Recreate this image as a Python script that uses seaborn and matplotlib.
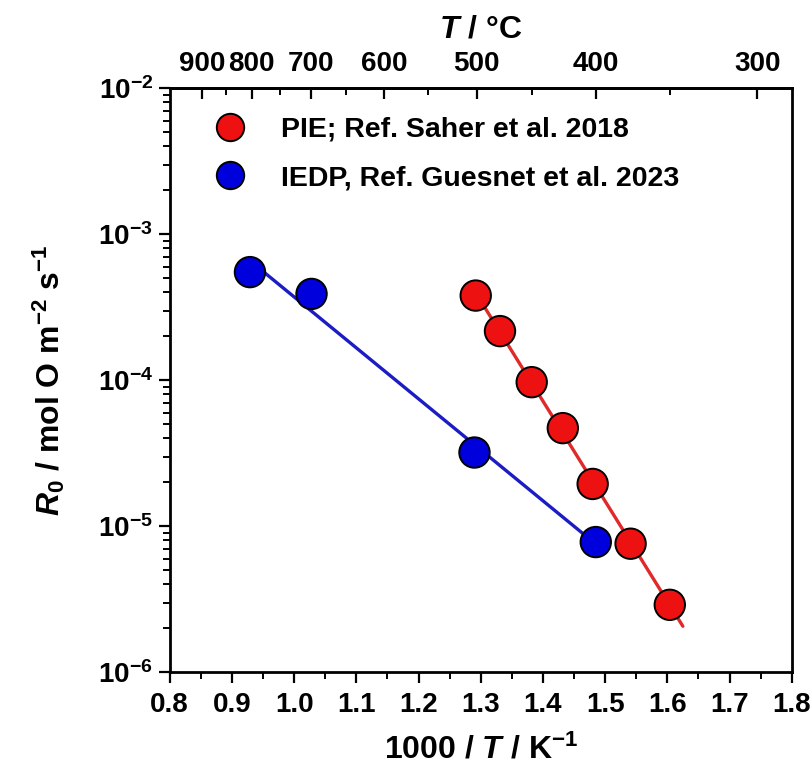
import numpy as np
import pandas as pd
import seaborn as sns
import matplotlib.pyplot as plt
from matplotlib.ticker import FixedLocator, LogLocator, NullFormatter, MultipleLocator

sns.set_style("ticks")
plt.rcParams['font.family'] = ['Liberation Sans', 'DejaVu Sans']
plt.rcParams['font.weight'] = 'bold'
plt.rcParams['text.color'] = 'black'
plt.rcParams['axes.labelcolor'] = 'black'
plt.rcParams['xtick.color'] = 'black'
plt.rcParams['ytick.color'] = 'black'
plt.rcParams['axes.edgecolor'] = 'black'
plt.rcParams['mathtext.fontset'] = 'custom'
plt.rcParams['mathtext.rm'] = 'Liberation Sans:bold'
plt.rcParams['mathtext.it'] = 'Liberation Sans:bold:italic'
plt.rcParams['mathtext.bf'] = 'Liberation Sans:bold'
plt.rcParams['mathtext.default'] = 'rm'

# data
pie_x = [1.292, 1.331, 1.382, 1.432, 1.480, 1.541, 1.604]
pie_r0 = [3.8e-4, 2.17e-4, 9.7e-5, 4.7e-5, 1.95e-5, 7.6e-6, 2.9e-6]
iedp_x = [0.929, 1.028, 1.290, 1.485]
iedp_r0 = [5.5e-4, 3.9e-4, 3.2e-5, 7.8e-6]
series = ["PIE; Ref. Saher et al. 2018", "IEDP, Ref. Guesnet et al. 2023"]
pie_fit_range = [1.29, 1.625]
iedp_fit_range = [0.929, 1.485]
top_T = [900, 800, 700, 600, 500, 400, 300]
x_ticks = [0.8, 0.9, 1.0, 1.1, 1.2, 1.3, 1.4, 1.5, 1.6, 1.7, 1.8]
y_ticks = [1e-6, 1e-5, 1e-4, 1e-3, 1e-2]

df = pd.DataFrame({
    "x": pie_x + iedp_x,
    "r0": pie_r0 + iedp_r0,
    "src": [series[0]] * len(pie_x) + [series[1]] * len(iedp_x),
})

def fit_line(x, y, rng):
    p = np.polyfit(x, np.log10(y), 1)
    xs = np.array(rng)
    return pd.DataFrame({"x": xs, "r0": 10 ** np.polyval(p, xs)})

fig = plt.figure(figsize=(8.12, 7.8), dpi=100)
ax = fig.add_axes([0.209, 0.138, 0.766, 0.749])

sns.lineplot(data=fit_line(pie_x, pie_r0, pie_fit_range), x="x", y="r0", color="#e02a2a", lw=2.4, ax=ax, legend=False)
sns.lineplot(data=fit_line(iedp_x, iedp_r0, iedp_fit_range), x="x", y="r0", color="#1c1cc4", lw=2.4, ax=ax, legend=False)
sns.scatterplot(data=df, x="x", y="r0", hue="src", palette=["#ee1111", "#0000dd"],
                s=480, edgecolor="black", linewidth=1.4, ax=ax, zorder=3)

ax.set_yscale("log")
ax.set_xlim(0.8, 1.8)
ax.set_ylim(1e-6, 1e-2)

ax.set_xticks(x_ticks)
ax.set_xticklabels([f"{v:.1f}" for v in x_ticks])
ax.xaxis.set_minor_locator(MultipleLocator(0.05))
ax.set_yticks(y_ticks)
ax.set_yticklabels([f"$10^{{{int(np.log10(v))}}}$" for v in y_ticks])
ax.yaxis.set_minor_locator(LogLocator(base=10, subs=np.arange(2, 10)))
ax.yaxis.set_minor_formatter(NullFormatter())

ax.tick_params(axis="both", which="major", labelsize=20, length=8, width=1.6, direction="out")
ax.tick_params(axis="both", which="minor", length=5, width=1.4, direction="out")
ax.tick_params(axis="x", pad=6)
ax.tick_params(axis="y", pad=4)
for sp in ax.spines.values():
    sp.set_linewidth(2)
    sp.set_visible(True)

ax.set_xlabel("1000 / $\\mathit{T}$ / K$^{-1}$", fontsize=23, fontweight="bold", labelpad=12)
ax.set_ylabel("$\\mathit{R}_0$ / mol O m$^{-2}$ s$^{-1}$", fontsize=23, fontweight="bold", labelpad=22)

top = ax.secondary_xaxis("top", functions=(lambda x: 1000.0 / np.clip(x, 1e-6, None) - 273.15,
                                           lambda t: 1000.0 / (np.asarray(t) + 273.15)))
top.set_xticks(top_T)
top.set_xticklabels([str(t) for t in top_T])
top.xaxis.set_minor_locator(FixedLocator([850, 750, 650, 550, 450, 350]))
top.tick_params(axis="x", which="major", labelsize=20, length=8, width=1.6, direction="in", pad=8)
top.tick_params(axis="x", which="minor", length=5, width=1.4, direction="in")
top.spines["top"].set_linewidth(2)
top.set_xlabel("$\\mathit{T}$ / °C", fontsize=23, fontweight="bold", labelpad=10)

handles, labels = ax.get_legend_handles_labels()
ax.legend(handles, labels, loc="upper left", frameon=False, fontsize=20.5,
          markerscale=0.9, handletextpad=0.8, labelspacing=0.8,
          bbox_to_anchor=(0.01, 0.995))

plt.savefig("out.png", dpi=100)
